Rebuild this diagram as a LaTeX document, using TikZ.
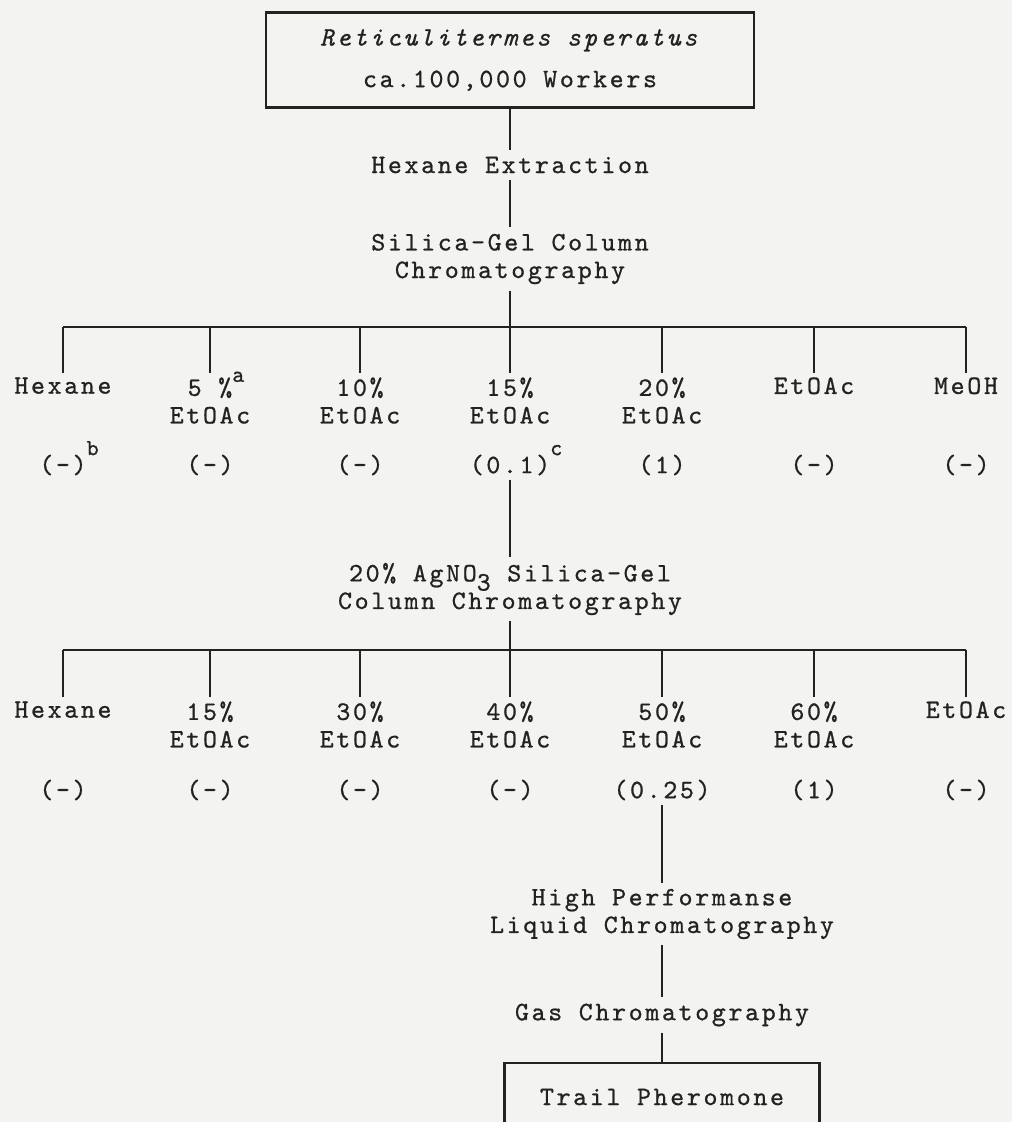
\documentclass[tikz,border=0pt]{standalone}
\usepackage{fontspec}
\setmainfont{lmmono10-regular}[Extension=.otf, ItalicFont=lmmono10-italic, LetterSpace=10, FakeBold=0.8]
\usepackage{xcolor}
\usepackage{tikz}
\usetikzlibrary{positioning}

\definecolor{paper}{HTML}{F3F3F1}
\definecolor{ink}{HTML}{222222}

% raised footnote mark that takes no room
\newcommand{\fnmark}[2][9pt]{\rlap{\smash{\raisebox{#1}{\fontsize{11.5}{12}\selectfont #2}}}}

\begin{document}
\begin{tikzpicture}[x=0.5pt, y=-0.5pt, font=\fontsize{13.3}{13.8}\selectfont, text=ink]
\tikzstyle{process} = [rectangle, draw=ink, line width=1.1 pt, text centered, align=center]
\tikzstyle{stage} = [align=center, inner sep=3 pt]
\tikzstyle{fraction} = [align=center, anchor=north, inner sep=2 pt]
\tikzstyle{activity} = [inner sep=2 pt]
\tikzstyle{link} = [draw=ink, line width=1.1 pt]

\useasboundingbox (0,0) rectangle (1012,1122);
\fill [paper] (0,0) rectangle (1012,1122);

% first column
\node (RS)  [process, minimum width=244 pt, minimum height=47.5 pt] at (510,60) {\textit{Reticulitermes speratus}\\[7 pt]ca.100,000 Workers};
\node (HE)  [stage] at (510,165) {Hexane Extraction};
\node (SCC) [stage] at (510,259) {Silica-Gel Column\\Chromatography};
\coordinate (B1)  at (510,327);
\coordinate (B1L) at (63,327);
\coordinate (B1R) at (966,327);

\node (F1) [fraction] at (63,373)  {Hexane};
\node (F2) [fraction] at (210,373) {5 \%\fnmark[7pt]{a}\\EtOAc};
\node (F3) [fraction] at (360,373) {10\%\\EtOAc};
\node (F4) [fraction] at (510,373) {15\%\\EtOAc};
\node (F5) [fraction] at (662,373) {20\%\\EtOAc};
\node (F6) [fraction] at (814,373) {EtOAc};
\node (F7) [fraction] at (966,373) {MeOH};

\node (V1) [activity] at (63,465)  {(-)\fnmark{b}};
\node (V2) [activity] at (210,465) {(-)};
\node (V3) [activity] at (360,465) {(-)};
\node (V4) [activity] at (510,465) {(0.1)\fnmark{c}};
\node (V5) [activity] at (662,465) {(1)};
\node (V6) [activity] at (814,465) {(-)};
\node (V7) [activity] at (966,465) {(-)};

% AgNO3 column
\node (AG) [stage] at (510,589) {20\% AgNO\smash{\raisebox{-0.8ex}{3}} Silica-Gel\\Column Chromatography};
\coordinate (B2)  at (510,650);
\coordinate (B2L) at (63,650);
\coordinate (B2R) at (966,650);

\node (G1) [fraction] at (63,697)  {Hexane};
\node (G2) [fraction] at (210,697) {15\%\\EtOAc};
\node (G3) [fraction] at (360,697) {30\%\\EtOAc};
\node (G4) [fraction] at (510,697) {40\%\\EtOAc};
\node (G5) [fraction] at (662,697) {50\%\\EtOAc};
\node (G6) [fraction] at (814,697) {60\%\\EtOAc};
\node (G7) [fraction] at (966,697) {EtOAc};

\node (W1) [activity] at (63,790)  {(-)};
\node (W2) [activity] at (210,790) {(-)};
\node (W3) [activity] at (360,790) {(-)};
\node (W4) [activity] at (510,790) {(-)};
\node (W5) [activity] at (662,790) {(0.25)};
\node (W6) [activity] at (814,790) {(1)};
\node (W7) [activity] at (966,790) {(-)};

% HPLC and GC
\node (HPLC) [stage] at (662,914) {High Performanse\\Liquid Chromatography};
\node (GC)   [stage] at (662,1015) {Gas Chromatography};
\node (TP)   [process, minimum width=157.5 pt, minimum height=34 pt] at (662,1097) {Trail Pheromone};

\draw [link] (RS) -- (HE);
\draw [link] (HE) -- (SCC);
\draw [link] (SCC) -- (B1);
\draw [link] (B1L) -- (B1R);
\draw [link] (B1L) -- (F1.north);
\draw [link] (F2.north |- B1) -- (F2.north);
\draw [link] (F3.north |- B1) -- (F3.north);
\draw [link] (F4.north |- B1) -- (F4.north);
\draw [link] (F5.north |- B1) -- (F5.north);
\draw [link] (F6.north |- B1) -- (F6.north);
\draw [link] (B1R) -- (F7.north);

\draw [link] (V4) -- (AG);
\draw [link] (AG) -- (B2);
\draw [link] (B2L) -- (B2R);
\draw [link] (B2L) -- (G1.north);
\draw [link] (G2.north |- B2) -- (G2.north);
\draw [link] (G3.north |- B2) -- (G3.north);
\draw [link] (G4.north |- B2) -- (G4.north);
\draw [link] (G5.north |- B2) -- (G5.north);
\draw [link] (G6.north |- B2) -- (G6.north);
\draw [link] (B2R) -- (G7.north);

\draw [link] (W5) -- (HPLC);
\draw [link] (HPLC) -- (GC);
\draw [link] (GC) -- (TP);

\end{tikzpicture}
\end{document}
